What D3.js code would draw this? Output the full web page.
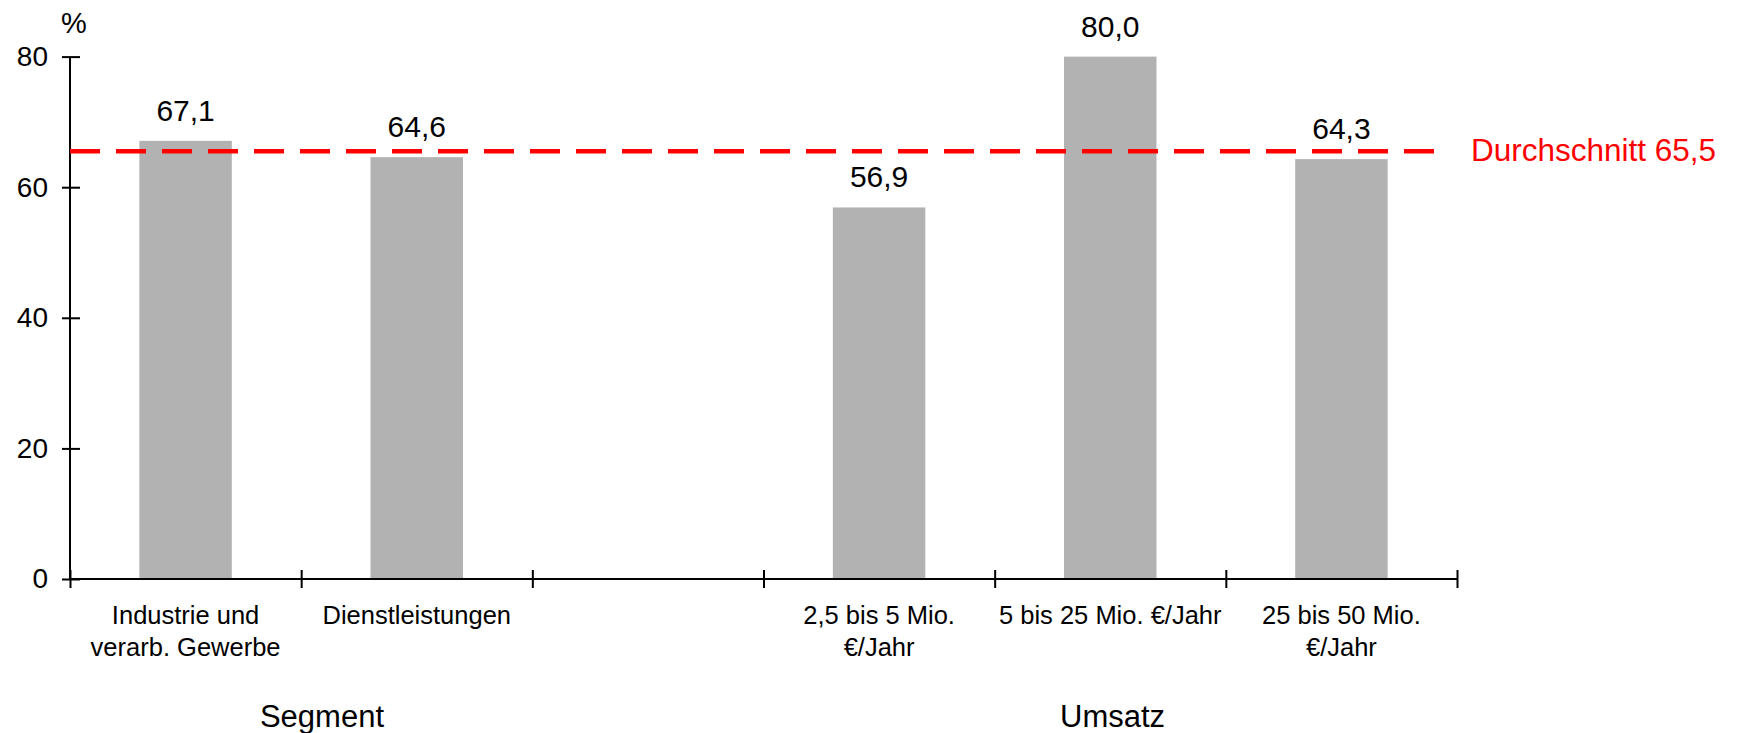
<!DOCTYPE html>
<html>
<head>
<meta charset="utf-8">
<script src="https://cdn.jsdelivr.net/npm/d3@7"></script>
<style>
  body { margin: 0; background: #fff; }
  text { font-family: "Liberation Sans", Arial, sans-serif; fill: #000; }
</style>
</head>
<body>
<svg id="chart" width="1739" height="733"></svg>
<script>
// categories, the empty one is the gap between the two groups
var categories = ["ind", "dienst", "gap", "u1", "u2", "u3"];
var labelLines = [
  ["Industrie und", "verarb. Gewerbe"],
  ["Dienstleistungen"],
  [],
  ["2,5 bis 5 Mio.", "€/Jahr"],
  ["5 bis 25 Mio. €/Jahr"],
  ["25 bis 50 Mio.", "€/Jahr"]
];
var values = [67.1, 64.6, null, 56.9, 80.0, 64.3];
var yTicks = [0, 20, 40, 60, 80];
var groups = ["Segment", "Umsatz"];
var groupCenters = [1.09, 4.51]; // in category units
var average = 65.5;
var averageLabel = "Durchschnitt 65,5";

const padL = 70, padR = 1457, padT = 56.6, padB = 579;
const svg = d3.select("#chart");

var de = d3.formatLocale({ decimal: ",", thousands: ".", grouping: [3], currency: ["", "€"] });
var fmt = de.format(".1f");

var x = d3.scaleBand().domain(categories).range([padL, padR]).padding(0);
var xi = d3.scaleLinear().domain([0, categories.length]).range([padL, padR]);
var y = d3.scaleLinear().domain([0, 80]).range([padB, padT]);

var barW = x.bandwidth() * 0.4;
var withValue = categories.filter(function (c, i) { return values[i] != null; });
function val(c) { return values[categories.indexOf(c)]; }

// bars
svg.selectAll("rect.bar")
  .data(withValue)
  .enter()
  .append("rect")
  .attr("class", "bar")
  .attr("x", function (c) { return x(c) + (x.bandwidth() - barW) / 2; })
  .attr("width", barW)
  .attr("y", function (c) { return y(val(c)); })
  .attr("height", function (c) { return padB - y(val(c)); })
  .attr("fill", "#b2b2b2");

// value labels
svg.selectAll("text.val")
  .data(withValue)
  .enter()
  .append("text")
  .attr("class", "val")
  .attr("x", function (c) { return x(c) + x.bandwidth() / 2; })
  .attr("y", function (c) { return y(val(c)) - 20; })
  .attr("text-anchor", "middle")
  .style("font-size", "30px")
  .text(function (c) { return fmt(val(c)); });

// y axis
var gy = svg.append("g")
  .attr("transform", "translate(" + padL + ",0)")
  .call(d3.axisLeft(y).tickValues(yTicks).tickSize(8).tickPadding(14));
gy.select(".domain").attr("stroke", "#000").attr("stroke-width", 2).attr("d", "M0," + y(80) + "V" + y(0));
gy.selectAll(".tick line").attr("x1", 10).attr("x2", -8).attr("stroke", "#000").attr("stroke-width", 2);
gy.selectAll(".tick text").style("font-size", "28px").style("font-family", "Liberation Sans, Arial, sans-serif").attr("fill", "#000");

svg.append("text")
  .attr("x", 61).attr("y", 33)
  .style("font-size", "29px")
  .text("%");

// x axis
var gx = svg.append("g")
  .attr("transform", "translate(0," + padB + ")")
  .call(d3.axisBottom(xi).tickValues(d3.range(0, categories.length + 1)).tickFormat("").tickSize(9));
gx.select(".domain").attr("stroke", "#000").attr("stroke-width", 2).attr("d", "M" + padL + ",0H" + padR);
gx.selectAll(".tick line").attr("y1", -9).attr("y2", 9).attr("stroke", "#000").attr("stroke-width", 2);

// category labels
categories.forEach(function (c, i) {
  var t = svg.append("text")
    .attr("text-anchor", "middle")
    .style("font-size", "25.5px");
  labelLines[i].forEach(function (line, j) {
    t.append("tspan")
      .attr("x", x(c) + x.bandwidth() / 2)
      .attr("y", 624 + j * 32)
      .text(line);
  });
});

// group labels
svg.selectAll("text.group")
  .data(groups)
  .enter()
  .append("text")
  .attr("class", "group")
  .attr("x", function (g, i) { return xi(groupCenters[i]); })
  .attr("y", 727)
  .attr("text-anchor", "middle")
  .style("font-size", "31px")
  .text(function (g) { return g; });

// average line
svg.append("line")
  .attr("x1", padL).attr("x2", 1443)
  .attr("y1", y(average)).attr("y2", y(average))
  .attr("stroke", "#ff0000")
  .attr("stroke-width", 4.5)
  .attr("stroke-dasharray", "30,16");

svg.append("text")
  .attr("x", 1471)
  .attr("y", y(average) + 10)
  .style("font-size", "31.5px")
  .style("fill", "#ff0000")
  .text(averageLabel);
</script>
</body>
</html>
